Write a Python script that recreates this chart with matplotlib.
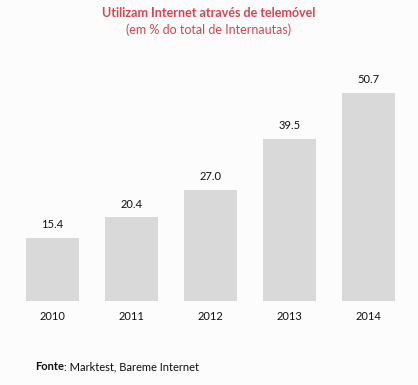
import matplotlib
matplotlib.use("Agg")
import matplotlib.pyplot as plt

years = ["2010", "2011", "2012", "2013", "2014"]
values = [15.4, 20.4, 27.0, 39.5, 50.7]

plt.rcParams["font.family"] = ["Lato", "DejaVu Sans"]

fig = plt.figure(figsize=(4.18, 3.85), dpi=100, facecolor="#fcfcfc")
# axes placed in figure pixels: left 13, bottom 84, width 395, height ~226
ax = fig.add_axes([13 / 418, 84 / 385, 395 / 418, 226 / 385])
ax.set_facecolor("#fcfcfc")

x = range(len(years))
bars = ax.bar(x, values, width=0.67, color="#d9d9d9")
for b, v in zip(bars, values):
    ax.annotate(f"{v:.1f}", (b.get_x() + b.get_width() / 2, v), xytext=(0, 5.5),
                textcoords="offset points", ha="center", va="bottom", fontsize=8, color="#111111")

ax.set_xlim(-0.5, 4.5)
ax.set_ylim(0, 55)
ax.set_xticks(list(x))
ax.set_xticklabels(years, fontsize=8, color="#111111")
ax.tick_params(axis="x", length=0, pad=7)
ax.set_yticks([])
for s in ax.spines.values():
    s.set_visible(False)

fig.text(0.5, 1 - 13 / 385, "Utilizam Internet através de telemóvel", ha="center", va="center",
         fontsize=9, fontweight="bold", color="#d64550")
fig.text(0.5, 1 - 30 / 385, "(em % do total de Internautas)", ha="center", va="center",
         fontsize=9, color="#d64550")
t = fig.text(35 / 418, 1 - 367 / 385, "Fonte", ha="left", va="center",
             fontsize=8, fontweight="bold", color="#111111")
fig.canvas.draw()
bb = t.get_window_extent()
fig.text(bb.x1 / 418, 1 - 367 / 385, ": Marktest, Bareme Internet", ha="left", va="center",
         fontsize=8, color="#111111")

fig.savefig("out.png", dpi=100, facecolor=fig.get_facecolor())
